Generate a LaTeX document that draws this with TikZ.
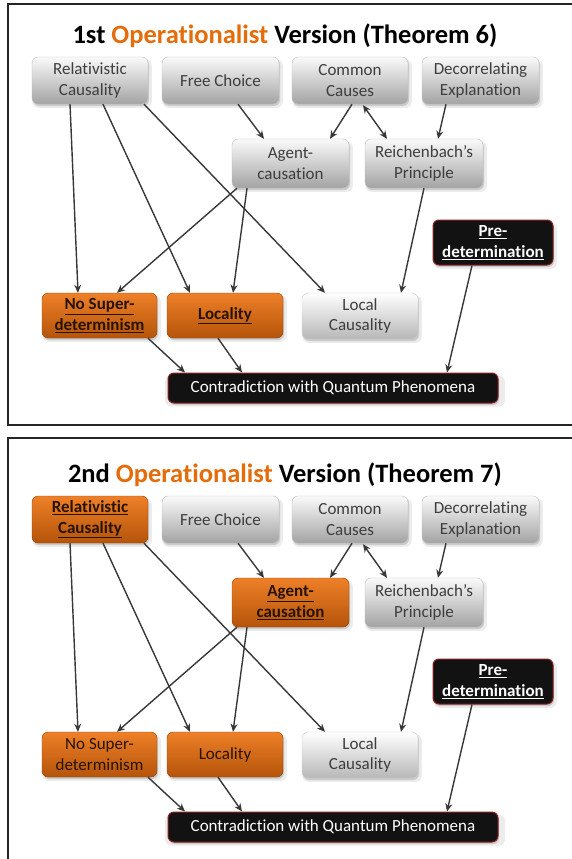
\documentclass[tikz,border=0pt]{standalone}
\usepackage{fontspec}
\setmainfont{Carlito}[Ligatures=NoCommon]
\usetikzlibrary{shadows,arrows.meta,calc}
\definecolor{orT}{HTML}{EE8028}
\definecolor{orB}{HTML}{B5540A}
\definecolor{orTitle}{HTML}{E46C0A}
\definecolor{gTxt}{HTML}{3E3E3E}
\definecolor{lineC}{HTML}{383838}
\definecolor{redB}{HTML}{8E1F1F}
\tikzset{
 box/.style={rounded corners=6pt, minimum height=47pt, inner sep=0pt, align=center,
   font=\fontsize{17}{20.5}\selectfont,
   drop shadow={shadow xshift=2pt, shadow yshift=-3pt, shadow scale=1.03, opacity=0.15},
   drop shadow={shadow xshift=1pt, shadow yshift=-2pt, opacity=0.3}},
 graybox/.style={box, draw=black!25, top color=black!2, bottom color=black!36, text=gTxt},
 lightbox/.style={box, draw=black!20, top color=white, bottom color=black!28, text=gTxt},
 orbox/.style={box, draw=orB!80!black, top color=orT, bottom color=orB, text=black!85!orange},
 blkbox/.style={box, draw=redB, line width=1pt, fill=black!93, text=white},
 arr/.style={draw=lineC, line width=1.4pt, -{Stealth[length=8pt,width=7pt]}},
 darr/.style={draw=lineC, line width=1.4pt, {Stealth[length=8pt,width=7pt]}-{Stealth[length=8pt,width=7pt]}},
 ttl/.style={font=\fontsize{26.5}{30}\selectfont\bfseries},
 frame/.style={draw=black!85, line width=1.5pt},
}
\begin{document}
\begin{tikzpicture}[x=1pt,y=-1pt]
\useasboundingbox (0,0) rectangle (572,859);
\fill[white] (0,0) rectangle (572,859);
% ---------------- Panel 1 ----------------
\draw[frame] (8,4) rectangle (585,425);
\node[ttl] (t1) at (285,36) {1st \textcolor{orTitle}{Operationalist} Version (Theorem 6)};
\node[graybox, minimum width=116pt] (rel1) at (90,80.5) {Relativistic\\Causality};
\node[graybox, minimum width=117pt] (free1) at (220.5,80.5) {Free Choice};
\node[graybox, minimum width=116pt] (com1) at (350,80.5) {Common\\Causes};
\node[graybox, minimum width=117pt] (dec1) at (480.5,80.5) {Decorrelating\\Explanation};
\node[graybox, minimum width=117pt, minimum height=49pt] (agt1) at (290.5,163.5) {Agent-\\causation};
\node[graybox, minimum width=118pt, minimum height=49pt] (rei1) at (424,163.5) {Reichenbach’s\\Principle};
\node[blkbox, minimum width=120pt, minimum height=45pt] (pre1) at (493,242.5) {\bfseries\underline{Pre-}\\\bfseries\underline{determination}};
\node[orbox, minimum width=115pt, minimum height=45pt] (nos1) at (99.5,315.5) {\bfseries\underline{No Super-}\\\bfseries\underline{determinism}};
\node[orbox, minimum width=116pt, minimum height=45pt] (loc1) at (225,315.5) {\bfseries\underline{Locality}};
\node[lightbox, minimum width=116pt, minimum height=46pt] (lcs1) at (360,316) {Local\\Causality};
\node[blkbox, minimum width=330pt, minimum height=30pt] (con1) at (333,388) {Contradiction with Quantum Phenomena};
\draw[arr] ([xshift=-20pt]rel1.south) -- ([xshift=-21.5pt]nos1.north);
\draw[arr] ([xshift=13pt]rel1.south) -- ([xshift=-35pt]loc1.north);
\draw[arr] ([xshift=54pt]rel1.south) -- ([xshift=-35pt]lcs1.north);
\draw[arr] ([xshift=17.5pt]free1.south) -- ([xshift=-26.5pt]agt1.north);
\draw[arr] ([xshift=2pt]com1.south) -- ([xshift=39.5pt]agt1.north);
\draw[darr] ([xshift=13pt,yshift=-1pt]com1.south) -- ([xshift=-37pt]rei1.north);
\draw[arr] ([xshift=-34.5pt]dec1.south) -- ([xshift=14pt]rei1.north);
\draw[arr] ([xshift=-53.5pt]agt1.south) -- ([xshift=17.5pt]nos1.north);
\draw[arr] ([xshift=-43.5pt]agt1.south) -- ([xshift=8pt]loc1.north);
\draw[arr] (rei1.south) -- ([xshift=41pt]lcs1.north);
\draw[arr] ([xshift=48.5pt]nos1.south) -- ([xshift=-148pt]con1.north);
\draw[arr] ([xshift=-7pt]loc1.south) -- ([xshift=-91pt]con1.north);
\draw[arr] ([xshift=-21pt]pre1.south) -- ([xshift=114pt]con1.north);
% ---------------- Panel 2 ----------------
\begin{scope}[yshift=-439pt]
\draw[frame] (8,-1) rectangle (585,430);
\node[ttl] (t2) at (285,36) {2nd \textcolor{orTitle}{Operationalist} Version (Theorem 7)};
\node[orbox, minimum width=116pt] (rel2) at (90,80.5) {\bfseries\underline{Relativistic}\\\bfseries\underline{Causality}};
\node[graybox, minimum width=117pt] (free2) at (220.5,80.5) {Free Choice};
\node[graybox, minimum width=116pt] (com2) at (350,80.5) {Common\\Causes};
\node[graybox, minimum width=117pt] (dec2) at (480.5,80.5) {Decorrelating\\Explanation};
\node[orbox, minimum width=117pt, minimum height=49pt] (agt2) at (290.5,163.5) {\bfseries\underline{Agent-}\\\bfseries\underline{causation}};
\node[graybox, minimum width=118pt, minimum height=49pt] (rei2) at (424,163.5) {Reichenbach’s\\Principle};
\node[blkbox, minimum width=120pt, minimum height=45pt] (pre2) at (493,242.5) {\bfseries\underline{Pre-}\\\bfseries\underline{determination}};
\node[orbox, minimum width=115pt, minimum height=45pt] (nos2) at (99.5,315.5) {No Super-\\determinism};
\node[orbox, minimum width=116pt, minimum height=45pt] (loc2) at (225,315.5) {Locality};
\node[lightbox, minimum width=116pt, minimum height=46pt] (lcs2) at (360,316) {Local\\Causality};
\node[blkbox, minimum width=330pt, minimum height=30pt] (con2) at (333,388) {Contradiction with Quantum Phenomena};
\draw[arr] ([xshift=-20pt]rel2.south) -- ([xshift=-21.5pt]nos2.north);
\draw[arr] ([xshift=13pt]rel2.south) -- ([xshift=-35pt]loc2.north);
\draw[arr] ([xshift=54pt]rel2.south) -- ([xshift=-35pt]lcs2.north);
\draw[arr] ([xshift=17.5pt]free2.south) -- ([xshift=-26.5pt]agt2.north);
\draw[arr] ([xshift=2pt]com2.south) -- ([xshift=39.5pt]agt2.north);
\draw[darr] ([xshift=13pt,yshift=-1pt]com2.south) -- ([xshift=-37pt]rei2.north);
\draw[arr] ([xshift=-34.5pt]dec2.south) -- ([xshift=14pt]rei2.north);
\draw[arr] ([xshift=-53.5pt]agt2.south) -- ([xshift=17.5pt]nos2.north);
\draw[arr] ([xshift=-43.5pt]agt2.south) -- ([xshift=8pt]loc2.north);
\draw[arr] (rei2.south) -- ([xshift=41pt]lcs2.north);
\draw[arr] ([xshift=48.5pt]nos2.south) -- ([xshift=-148pt]con2.north);
\draw[arr] ([xshift=-7pt]loc2.south) -- ([xshift=-91pt]con2.north);
\draw[arr] ([xshift=-21pt]pre2.south) -- ([xshift=114pt]con2.north);
\end{scope}
\end{tikzpicture}
\end{document}
